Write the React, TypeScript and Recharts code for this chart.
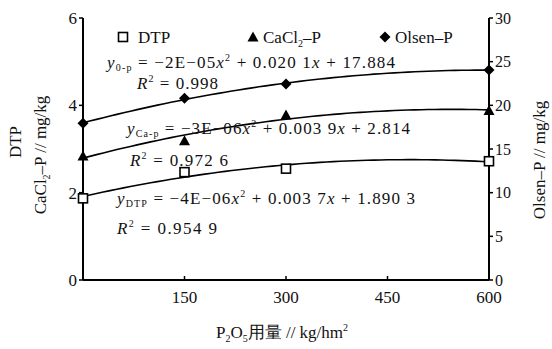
import React from "react";
import { ComposedChart, XAxis, YAxis, Scatter } from "recharts";

const xValues = [0, 150, 300, 600];
const dtpValues = [1.87, 2.47, 2.55, 2.72];
const caclValues = [2.84, 3.19, 3.78, 3.88];
const olsenValues = [17.94, 20.8, 22.44, 24.05];
const xTicks = [150, 300, 450, 600];
const leftTicks = [0, 2, 4, 6];
const rightTicks = [0, 5, 10, 15, 20, 25, 30];

const FONT = "'Liberation Serif', 'DejaVu Serif', serif";

// least-squares quadratic trend line (as in the original chart's fitted curves)
function quadFit(xs: number[], ys: number[]) {
  const s = (p: number) => xs.reduce((acc, x) => acc + Math.pow(x / 600, p), 0);
  const t = (p: number) => xs.reduce((acc, x, i) => acc + Math.pow(x / 600, p) * ys[i], 0);
  const m = [
    [s(4), s(3), s(2), t(2)],
    [s(3), s(2), s(1), t(1)],
    [s(2), s(1), s(0), t(0)],
  ];
  for (let i = 0; i < 3; i++) {
    for (let k = i + 1; k < 3; k++) {
      const f = m[k][i] / m[i][i];
      for (let j = i; j < 4; j++) m[k][j] -= f * m[i][j];
    }
  }
  const r = [0, 0, 0];
  for (let i = 2; i >= 0; i--) {
    let v = m[i][3];
    for (let j = i + 1; j < 3; j++) v -= m[i][j] * r[j];
    r[i] = v / m[i][i];
  }
  return (x: number) => r[0] * (x / 600) ** 2 + r[1] * (x / 600) + r[2];
}

const fitXs: number[] = [];
for (let x = 0; x <= 600; x += 10) fitXs.push(x);
const makeFit = (ys: number[]) => {
  const f = quadFit(xValues, ys);
  return fitXs.map((x) => ({ x, y: f(x) }));
};
const toPts = (ys: number[]) => xValues.map((x, i) => ({ x, y: ys[i] }));

const dtpPts = toPts(dtpValues);
const caclPts = toPts(caclValues);
const olsenPts = toPts(olsenValues);
const dtpFit = makeFit(dtpValues);
const caclFit = makeFit(caclValues);
const olsenFit = makeFit(olsenValues);

const Square = (p: any) => (
  <rect x={p.cx - 4.5} y={p.cy - 4.5} width={9} height={9} fill="#fff" stroke="#000" strokeWidth={1.6} />
);
const Tri = (p: any) => (
  <polygon points={`${p.cx},${p.cy - 5.5} ${p.cx - 5.5},${p.cy + 4.5} ${p.cx + 5.5},${p.cy + 4.5}`} fill="#000" />
);
const Diamond = (p: any) => (
  <polygon points={`${p.cx},${p.cy - 5.5} ${p.cx + 5.5},${p.cy} ${p.cx},${p.cy + 5.5} ${p.cx - 5.5},${p.cy}`} fill="#000" />
);
const NoShape = () => <g />;

const XTick = (p: any) => (
  <g>
    <line x1={p.x} x2={p.x} y1={p.y} y2={p.y - 4} stroke="#000" strokeWidth={1.5} />
    <text x={p.x} y={p.y + 23} textAnchor="middle" fontFamily={FONT} fontSize={17} fill="#111">
      {p.payload.value}
    </text>
  </g>
);

const sub = { fontSize: 10 } as const;

export default function App() {
  return (
    <div style={{ position: "absolute", left: 0, top: 0, width: 552, height: 349, background: "#fff" }}>
      <ComposedChart width={552} height={349} margin={{ top: 18, right: 0, bottom: 0, left: 0 }}>
        <XAxis
          dataKey="x"
          type="number"
          domain={[0, 600]}
          ticks={xTicks}
          height={69}
          tickSize={0}
          tickMargin={0}
          tickLine={false}
          tick={<XTick />}
          axisLine={{ stroke: "#000", strokeWidth: 2 }}
          interval={0}
        />
        <YAxis
          yAxisId="left"
          type="number"
          domain={[0, 6]}
          ticks={leftTicks}
          width={83}
          tickSize={4}
          tickMargin={2}
          axisLine={{ stroke: "#000", strokeWidth: 2 }}
          tickLine={{ stroke: "#000", strokeWidth: 1.5 }}
          tick={{ fontFamily: FONT, fontSize: 17, fill: "#111" }}
          interval={0}
        />
        <YAxis
          yAxisId="right"
          orientation="right"
          type="number"
          domain={[0, 30]}
          ticks={rightTicks}
          width={63}
          tickSize={4}
          tickMargin={2}
          axisLine={{ stroke: "#000", strokeWidth: 2 }}
          tickLine={{ stroke: "#000", strokeWidth: 1.5 }}
          tick={{ fontFamily: FONT, fontSize: 16, fill: "#111" }}
          interval={0}
        />
        <Scatter yAxisId="right" data={olsenFit} dataKey="y" line={{ stroke: "#000", strokeWidth: 1.6 }} lineType="joint" shape={<NoShape />} isAnimationActive={false} />
        <Scatter yAxisId="left" data={caclFit} dataKey="y" line={{ stroke: "#000", strokeWidth: 1.6 }} lineType="joint" shape={<NoShape />} isAnimationActive={false} />
        <Scatter yAxisId="left" data={dtpFit} dataKey="y" line={{ stroke: "#000", strokeWidth: 1.6 }} lineType="joint" shape={<NoShape />} isAnimationActive={false} />
        <Scatter yAxisId="right" data={olsenPts} dataKey="y" shape={<Diamond />} isAnimationActive={false} />
        <Scatter yAxisId="left" data={caclPts} dataKey="y" shape={<Tri />} isAnimationActive={false} />
        <Scatter yAxisId="left" data={dtpPts} dataKey="y" shape={<Square />} isAnimationActive={false} />
      </ComposedChart>
      <svg width={552} height={349} style={{ position: "absolute", left: 0, top: 0, pointerEvents: "none" }} fontFamily={FONT} fill="#111">
        {/* legend */}
        <rect x={118.5} y={32.5} width={9} height={9} fill="#fff" stroke="#000" strokeWidth={1.6} />
        <text x={138} y={43} fontSize={17}>DTP</text>
        <polygon points="253,31.5 247.5,41.5 258.5,41.5" fill="#000" />
        <text x={263} y={43} fontSize={17}>CaCl<tspan {...sub} dy={4}>2</tspan><tspan dy={-4}>–P</tspan></text>
        <polygon points="385,31.5 390.5,37 385,42.5 379.5,37" fill="#000" />
        <text x={395} y={43} fontSize={17}>Olsen–P</text>

        {/* equations */}
        <text x={107} y={68} fontSize={17} textLength={288} lengthAdjust="spacing">
          <tspan fontStyle="italic">y</tspan><tspan {...sub} dy={3}>0-p</tspan><tspan dy={-3}> = −2E−05</tspan><tspan fontStyle="italic">x</tspan><tspan {...sub} dy={-7}>2</tspan><tspan dy={7}> + 0.020 1</tspan><tspan fontStyle="italic">x</tspan><tspan> + 17.884</tspan>
        </text>
        <text x={137} y={89} fontSize={17} textLength={81} lengthAdjust="spacing">
          <tspan fontStyle="italic">R</tspan><tspan {...sub} dy={-7}>2</tspan><tspan dy={7}> = 0.998</tspan>
        </text>
        <text x={127} y={134} fontSize={17} textLength={283} lengthAdjust="spacing">
          <tspan fontStyle="italic">y</tspan><tspan {...sub} dy={3}>Ca-p</tspan><tspan dy={-3}> = −3E−06</tspan><tspan fontStyle="italic">x</tspan><tspan {...sub} dy={-7}>2</tspan><tspan dy={7}> + 0.003 9</tspan><tspan fontStyle="italic">x</tspan><tspan> + 2.814</tspan>
        </text>
        <text x={130} y={166} fontSize={17} textLength={98} lengthAdjust="spacing">
          <tspan fontStyle="italic">R</tspan><tspan {...sub} dy={-7}>2</tspan><tspan dy={7}> = 0.972 6</tspan>
        </text>
        <text x={117} y={204} fontSize={17} textLength={298} lengthAdjust="spacing">
          <tspan fontStyle="italic">y</tspan><tspan {...sub} dy={3}>DTP</tspan><tspan dy={-3}> = −4E−06</tspan><tspan fontStyle="italic">x</tspan><tspan {...sub} dy={-7}>2</tspan><tspan dy={7}> + 0.003 7</tspan><tspan fontStyle="italic">x</tspan><tspan> + 1.890 3</tspan>
        </text>
        <text x={117} y={234} fontSize={17} textLength={100} lengthAdjust="spacing">
          <tspan fontStyle="italic">R</tspan><tspan {...sub} dy={-7}>2</tspan><tspan dy={7}> = 0.954 9</tspan>
        </text>

        {/* axis titles */}
        <text transform="translate(21,142) rotate(-90)" textAnchor="middle" fontSize={17}>DTP</text>
        <text transform="translate(46,155) rotate(-90)" textAnchor="middle" fontSize={17}>
          CaCl<tspan {...sub} dy={4}>2</tspan><tspan dy={-4}>–P // mg/kg</tspan>
        </text>
        <text transform="translate(545,160) rotate(-90)" textAnchor="middle" fontSize={17}>Olsen–P // mg/kg</text>
        <text x={282} y={338} textAnchor="middle" fontSize={17}>
          P<tspan {...sub} dy={4}>2</tspan><tspan dy={-4}>O</tspan><tspan {...sub} dy={4}>5</tspan><tspan dy={-4}>用量 // kg/hm</tspan><tspan {...sub} dy={-7}>2</tspan>
        </text>
      </svg>
    </div>
  );
}
